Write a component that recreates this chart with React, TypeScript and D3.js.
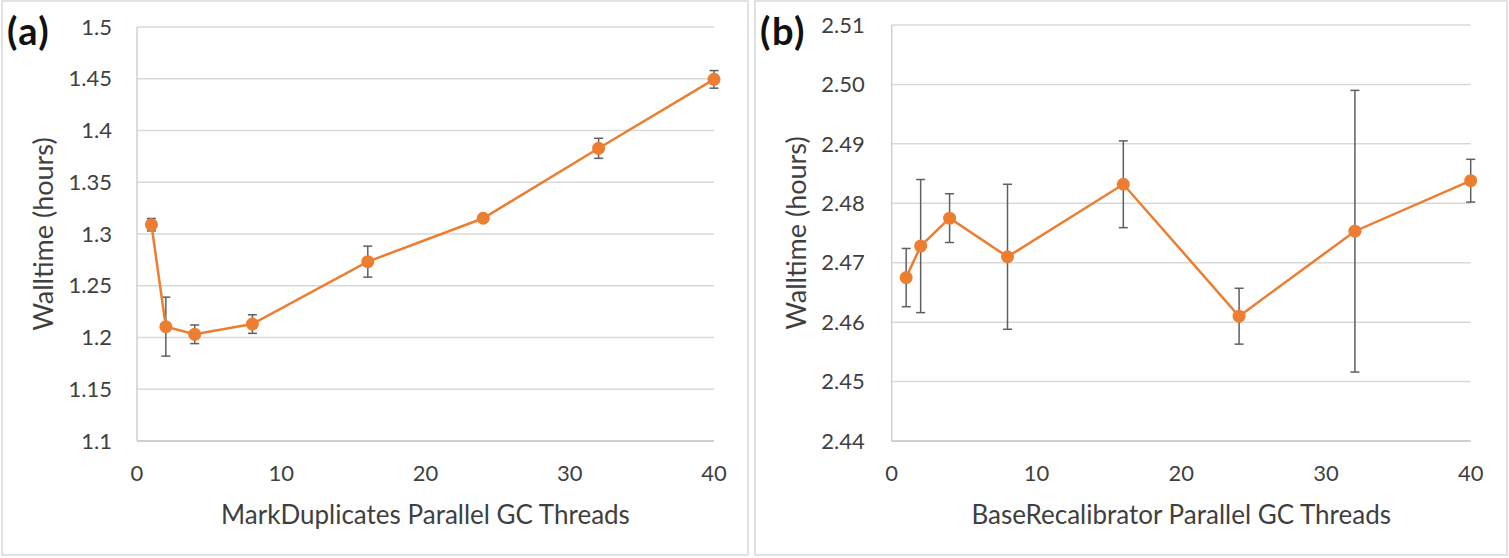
import React from "react";
import * as d3 from "d3";

const xThreads = [1, 2, 4, 8, 16, 24, 32, 40];
const markDupMean = [1.309, 1.2105, 1.2031, 1.213, 1.2733, 1.3152, 1.3828, 1.4494];
const markDupErr = [0.006, 0.0285, 0.009, 0.009, 0.015, 0.001, 0.0097, 0.0085];
const baseRecalMean = [2.4675, 2.4728, 2.4775, 2.471, 2.4832, 2.461, 2.4753, 2.4838];
const baseRecalErr = [0.0049, 0.0112, 0.0041, 0.0122, 0.0073, 0.0047, 0.0237, 0.0036];
const xTicks = [0, 10, 20, 30, 40];
const markDupYTicks = [1.1, 1.15, 1.2, 1.25, 1.3, 1.35, 1.4, 1.45, 1.5];
const baseRecalYTicks = [2.44, 2.45, 2.46, 2.47, 2.48, 2.49, 2.5, 2.51];
const markDupYLabels = ["1.1", "1.15", "1.2", "1.25", "1.3", "1.35", "1.4", "1.45", "1.5"];
const baseRecalYLabels = ["2.44", "2.45", "2.46", "2.47", "2.48", "2.49", "2.50", "2.51"];

const ORANGE = "#ED7D31";
const TEXT = "#3f3f3f";
const FONT = "Lato, 'Open Sans', sans-serif";

type PanelProps = {
  box: [number, number, number, number];
  plot: { left: number; right: number; top: number; bottom: number };
  tag: string;
  xTitle: string;
  mean: number[];
  err: number[];
  yTicks: number[];
  yLabels: string[];
  yDomain: [number, number];
  yTitleX: number;
  tickGap: number;
};

function Panel(p: PanelProps) {
  const x = d3.scaleLinear().domain([0, 40]).range([p.plot.left, p.plot.right]);
  const y = d3.scaleLinear().domain(p.yDomain).range([p.plot.bottom, p.plot.top]);
  const line = d3
    .line<number>()
    .x((_, i) => x(xThreads[i]))
    .y((d) => y(d));
  const [bx, by, bw, bh] = p.box;
  const yMid = (p.plot.top + p.plot.bottom) / 2;
  const xMid = (p.plot.left + p.plot.right) / 2;
  return (
    <g>
      <rect x={bx} y={by} width={bw} height={bh} fill="#fff" stroke="#d9d9d9" strokeWidth={1.5} />
      {p.yTicks.map((t, i) => (
        <line key={"g" + i} x1={p.plot.left} x2={p.plot.right} y1={y(t)} y2={y(t)} stroke="#d9d9d9" strokeWidth={1.5} />
      ))}
      <line x1={p.plot.left} x2={p.plot.left} y1={p.plot.top} y2={p.plot.bottom} stroke="#d0d0d0" strokeWidth={1.5} />
      <line x1={p.plot.left} x2={p.plot.right} y1={p.plot.bottom} y2={p.plot.bottom} stroke="#c8c8c8" strokeWidth={1.5} />
      {p.yTicks.map((t, i) => (
        <text key={"yl" + i} x={p.plot.left - p.tickGap} y={y(t)} dy="0.35em" textAnchor="end" fontSize={22} fill={TEXT} fontFamily={FONT}>
          {p.yLabels[i]}
        </text>
      ))}
      {xTicks.map((t, i) => (
        <text key={"xl" + i} x={x(t)} y={p.plot.bottom + 40} textAnchor="middle" fontSize={22} fill={TEXT} fontFamily={FONT}>
          {t}
        </text>
      ))}
      <text x={xMid} y={p.plot.bottom + 83} textAnchor="middle" fontSize={26} fill={TEXT} fontFamily={FONT}>
        {p.xTitle}
      </text>
      <text
        transform={`translate(${p.yTitleX},${yMid}) rotate(-90)`}
        textAnchor="middle"
        dy="0.35em"
        fontSize={27}
        fill={TEXT}
        fontFamily={FONT}
      >
        Walltime (hours)
      </text>
      <text x={bx + 5} y={45} fontSize={38} fontWeight="bold" letterSpacing={1.5} fill="#111" fontFamily={FONT}>
        {p.tag}
      </text>
      {p.mean.map((m, i) => {
        const cx = x(xThreads[i]);
        const y0 = y(m - p.err[i]);
        const y1 = y(m + p.err[i]);
        return (
          <g key={"e" + i} stroke="#5f5f5f" strokeWidth={1.5}>
            <line x1={cx} x2={cx} y1={y0} y2={y1} />
            <line x1={cx - 4.5} x2={cx + 4.5} y1={y0} y2={y0} />
            <line x1={cx - 4.5} x2={cx + 4.5} y1={y1} y2={y1} />
          </g>
        );
      })}
      <path d={line(p.mean) || ""} fill="none" stroke={ORANGE} strokeWidth={2.5} />
      {p.mean.map((m, i) => (
        <circle key={"c" + i} cx={x(xThreads[i])} cy={y(m)} r={6.5} fill={ORANGE} />
      ))}
    </g>
  );
}

export default function App() {
  return (
    <svg width={1509} height={558} style={{ position: "absolute", left: 0, top: 0, background: "#fff" }}>
      <rect x={0} y={0} width={1509} height={558} fill="#fff" />
      <Panel
        box={[2, 1, 746, 554]}
        plot={{ left: 137, right: 714, top: 27, bottom: 441 }}
        tag="(a)"
        xTitle="MarkDuplicates Parallel GC Threads"
        mean={markDupMean}
        err={markDupErr}
        yTicks={markDupYTicks}
        yLabels={markDupYLabels}
        yDomain={[1.1, 1.5]}
        yTitleX={44}
        tickGap={25}
      />
      <Panel
        box={[755, 1, 752, 554]}
        plot={{ left: 891.7, right: 1470.7, top: 25, bottom: 441 }}
        tag="(b)"
        xTitle="BaseRecalibrator Parallel GC Threads"
        mean={baseRecalMean}
        err={baseRecalErr}
        yTicks={baseRecalYTicks}
        yLabels={baseRecalYLabels}
        yDomain={[2.44, 2.51]}
        yTitleX={797}
        tickGap={27}
      />
    </svg>
  );
}
